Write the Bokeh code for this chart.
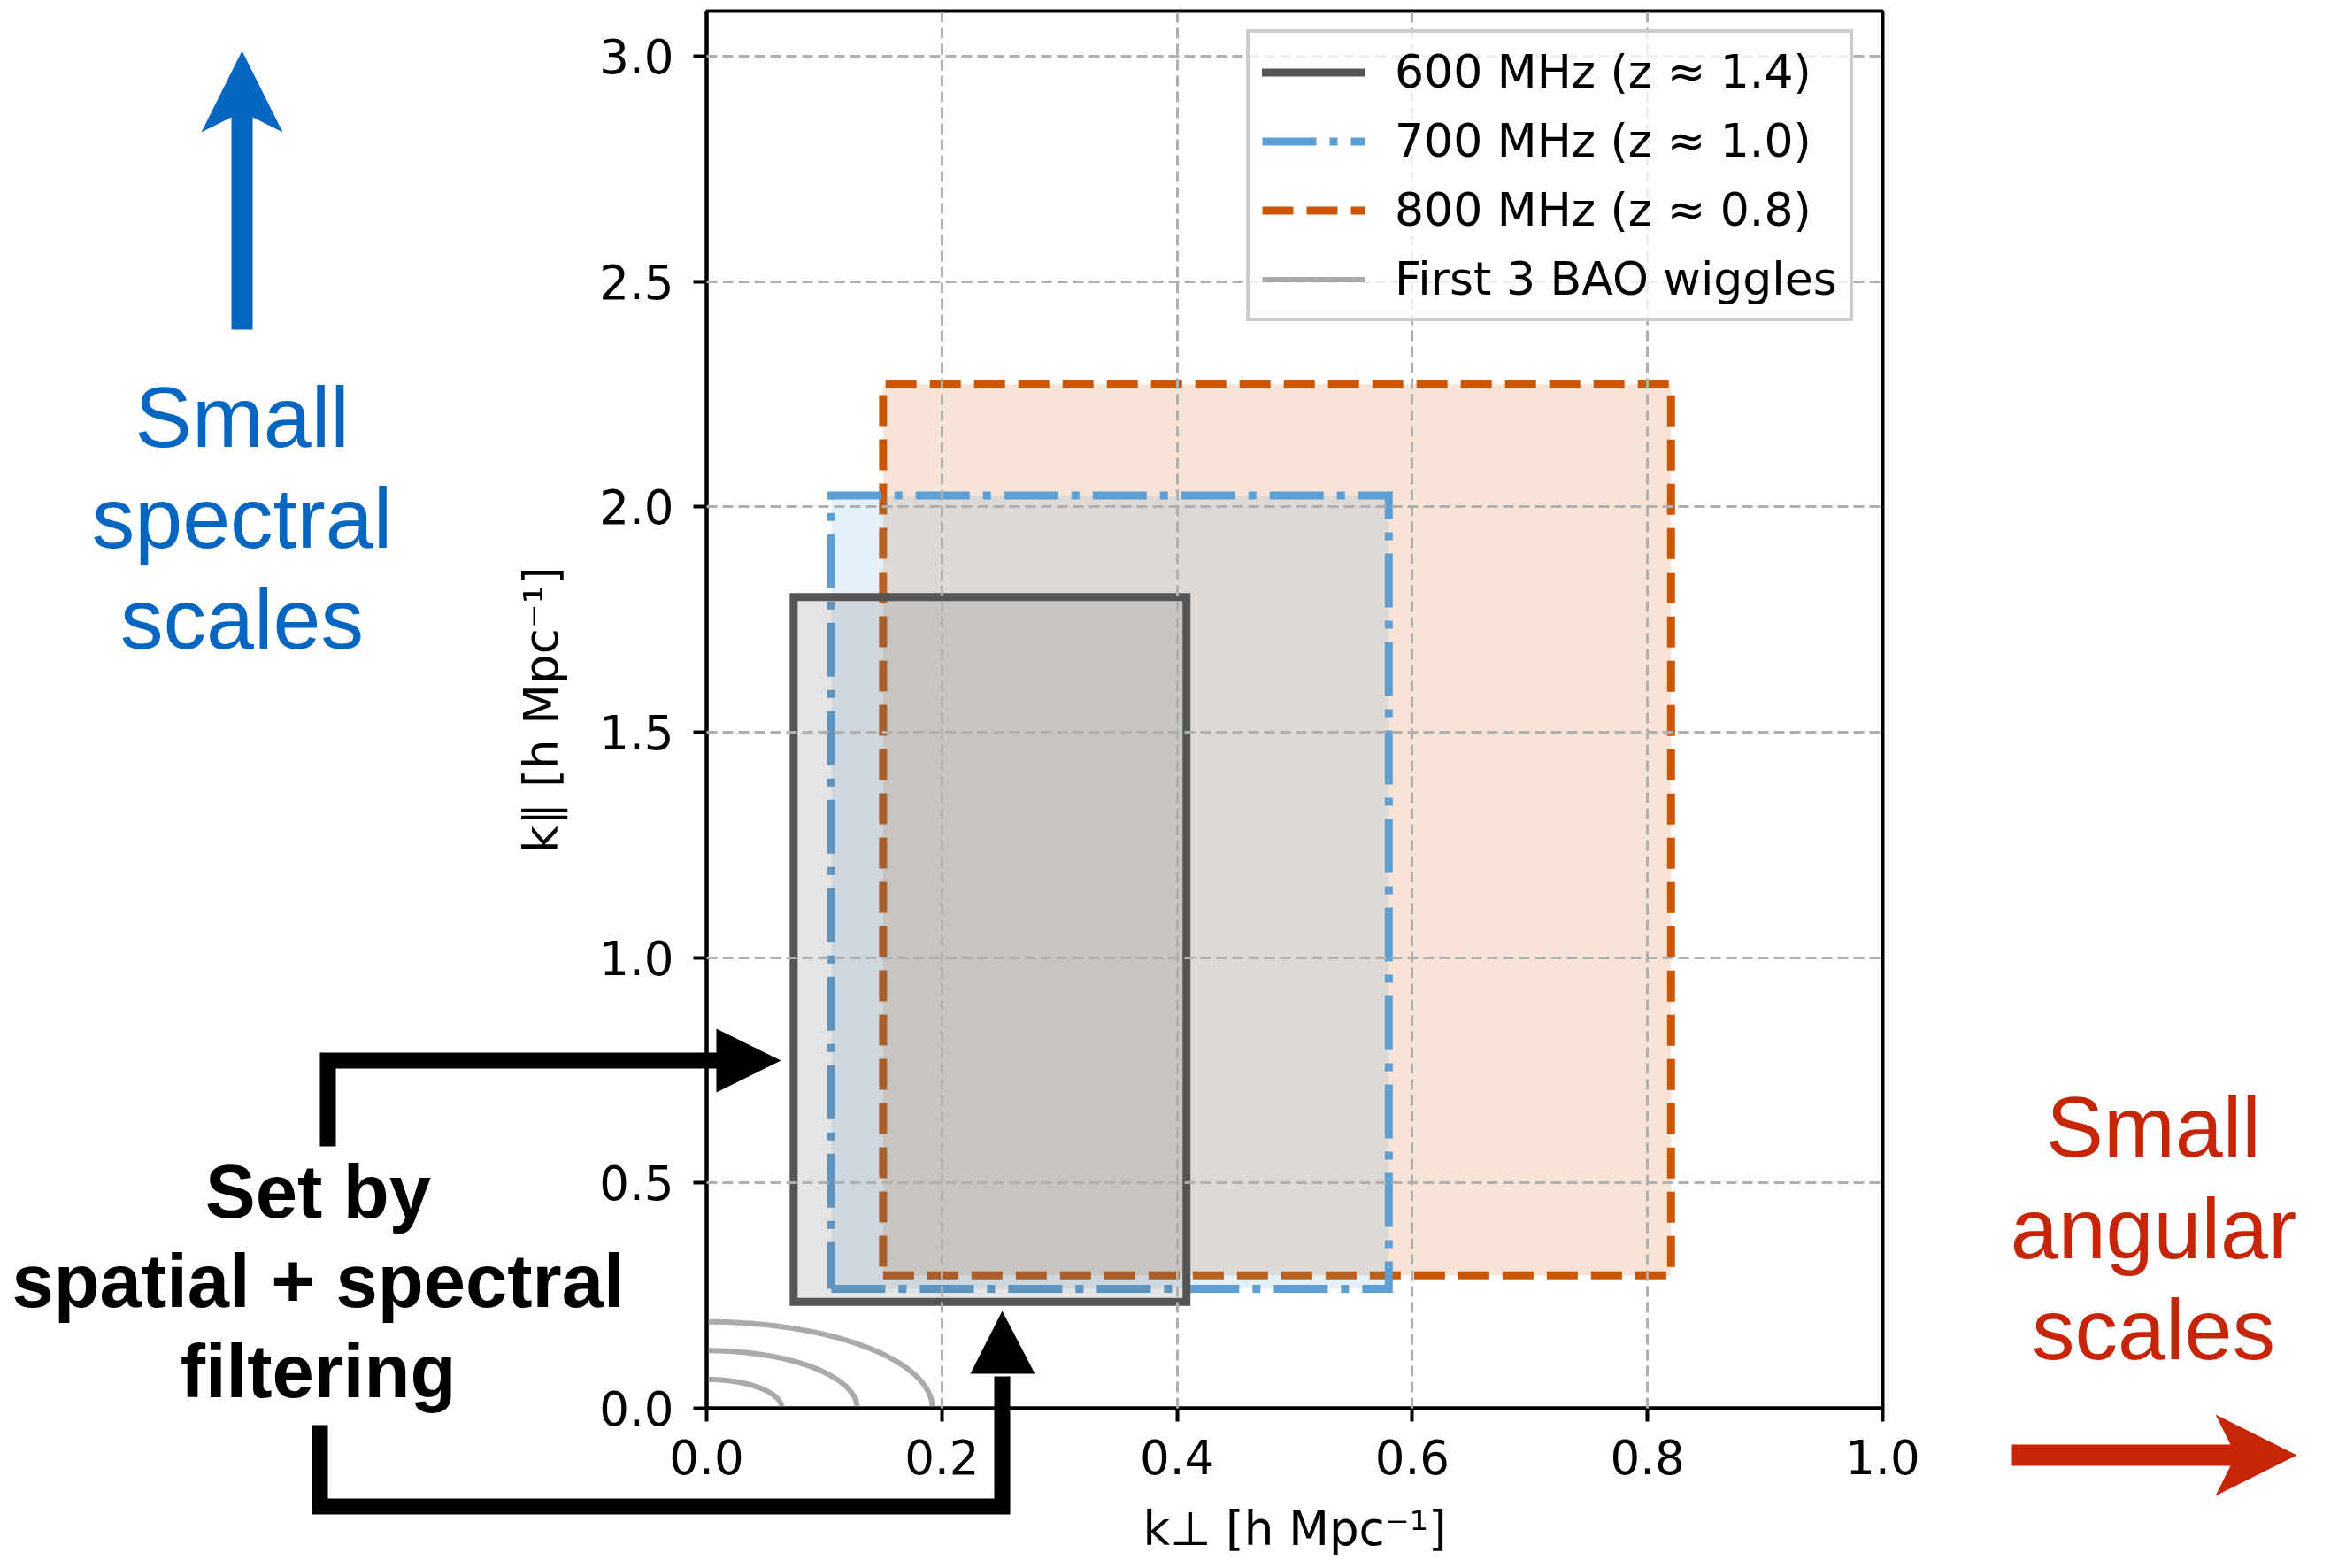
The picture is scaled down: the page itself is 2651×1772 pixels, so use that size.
import numpy as np
from bokeh.plotting import figure
from bokeh.layouts import column
from bokeh.models import (Label, Legend, LegendItem, FixedTicker, PrintfTickFormatter, Range1d)
from bokeh.embed import file_html
from bokeh.resources import INLINE

# ---------------- data ----------------
bands = ["600 MHz (z ≈ 1.4)", "700 MHz (z ≈ 1.0)", "800 MHz (z ≈ 0.8)"]
kperp_min = [0.074, 0.106, 0.150]
kperp_max = [0.408, 0.580, 0.820]
kpar_min = [0.236, 0.265, 0.295]
kpar_max = [1.800, 2.025, 2.272]
band_colors = ["#555555", "#5e9fd3", "#cc5500"]
band_dashes = ["solid", "61 15 9 15", "35 15"]
bao_radii = [0.064, 0.128, 0.192]
bao_label = "First 3 BAO wiggles"
x_ticks = [0.0, 0.2, 0.4, 0.6, 0.8, 1.0]
y_ticks = [0.0, 0.5, 1.0, 1.5, 2.0, 2.5, 3.0]
x_lim = (0.0, 1.0)
y_lim = (0.0, 3.1)

W, H = 2651, 1772

# ---------------- main chart ----------------
p = figure(width=W, height=H, output_backend="svg", toolbar_location=None,
           x_range=Range1d(*x_lim), y_range=Range1d(*y_lim),
           min_border_left=798, min_border_right=524, min_border_top=12, min_border_bottom=181)
p.frame_align = False
p.background_fill_color = "white"
p.border_fill_color = "white"
p.outline_line_color = "black"
p.outline_line_width = 4
p.outline_line_alpha = 1.0

# BAO wiggles: quarter circles in data space
theta = np.linspace(0.0, np.pi / 2, 120)
bao_r = p.multi_line(xs=[list(r * np.cos(theta)) for r in bao_radii],
                     ys=[list(r * np.sin(theta)) for r in bao_radii],
                     line_color="#aaaaaa", line_width=6)

# bands: drawn 800, 700, 600 (600 on top)
outlines = {}
for i in [2, 1, 0]:
    p.quad(left=[kperp_min[i]], right=[kperp_max[i]], bottom=[kpar_min[i]], top=[kpar_max[i]],
           fill_color=band_colors[i], fill_alpha=0.16, line_color=None)
    xs = [kperp_min[i], kperp_max[i], kperp_max[i], kperp_min[i], kperp_min[i]]
    ys = [kpar_min[i], kpar_min[i], kpar_max[i], kpar_max[i], kpar_min[i]]
    outlines[i] = p.line(xs, ys, line_color=band_colors[i], line_width=9,
                         line_dash=band_dashes[i], line_join="miter",
                         line_cap="square" if band_dashes[i] == "solid" else "butt")

# ---------------- grid & axes ----------------
p.xgrid.ticker = FixedTicker(ticks=[t for t in x_ticks if x_lim[0] < t < x_lim[1]])
p.ygrid.ticker = FixedTicker(ticks=[t for t in y_ticks if y_lim[0] < t < y_lim[1]])
for g in p.grid:
    g.grid_line_color = "#b0b0b0"
    g.grid_line_width = 3
    g.grid_line_dash = "12 6"
    g.level = "annotation"

p.xaxis.ticker = FixedTicker(ticks=x_ticks)
p.yaxis.ticker = FixedTicker(ticks=y_ticks)
p.xaxis.formatter = PrintfTickFormatter(format="%.1f")
p.yaxis.formatter = PrintfTickFormatter(format="%.1f")
p.xaxis.axis_label = "k⊥ [h Mpc⁻¹]"
p.yaxis.axis_label = "k∥ [h Mpc⁻¹]"
for ax in p.axis:
    ax.axis_line_width = 4
    ax.axis_line_color = "black"
    ax.major_tick_line_width = 4
    ax.major_tick_line_color = "black"
    ax.major_tick_out = 15
    ax.major_tick_in = 0
    ax.minor_tick_out = 0
    ax.minor_tick_in = 0
    ax.major_label_text_font = "DejaVu Sans"
    ax.major_label_text_font_size = "53px"
    ax.major_label_text_color = "black"
    ax.axis_label_text_font = "DejaVu Sans"
    ax.axis_label_text_font_size = "53px"
    ax.axis_label_text_font_style = "normal"
    ax.axis_label_text_color = "black"
p.xaxis.major_label_standoff = 20
p.xaxis.axis_label_standoff = 28
p.yaxis.major_label_standoff = 22
p.yaxis.axis_label_standoff = 32

# ---------------- legend ----------------
items = [LegendItem(label=bands[i], renderers=[outlines[i]]) for i in range(3)]
items.append(LegendItem(label=bao_label, renderers=[bao_r]))
legend = Legend(items=items, location=(610, 1228), glyph_width=116, glyph_height=59,
                label_height=59, label_standoff=34, spacing=18, padding=14, margin=0,
                label_text_font="DejaVu Sans", label_text_font_size="52px",
                label_text_color="black",
                border_line_color="#cccccc", border_line_width=4, border_line_alpha=1.0,
                background_fill_color="white", background_fill_alpha=0.8)
p.add_layout(legend)

# ---------------- annotation layer (pixel space, overlaid on the chart) ----------------
ann = figure(width=W, height=H, output_backend="svg", toolbar_location=None,
             x_range=Range1d(0, W), y_range=Range1d(0, H),
             x_axis_type=None, y_axis_type=None, min_border=0,
             styles={"position": "absolute", "left": "0px", "top": "0px"})
ann.frame_align = False
ann.background_fill_alpha = 0
ann.border_fill_alpha = 0
ann.outline_line_color = None

def Y(v):  # convert top-down pixel row to the layer's bottom-up coordinate
    return H - v

blue = "#0466c0"
red = "#c62507"

# blue upward arrow
bx = [273, 319, 285, 285, 261, 261, 227]
by = [57, 149, 132, 372, 372, 132, 149]
# red rightward arrow
rx = [2595, 2503, 2520, 2273, 2273, 2520, 2503]
ry = [1644, 1598, 1632, 1632, 1656, 1656, 1690]
# black arrowheads
h1x = [809, 882, 809]
h1y = [1162, 1198, 1234]
h2x = [1096, 1132, 1169]
h2y = [1552, 1481, 1552]
ann.patches(xs=[bx, rx, h1x, h2x], ys=[[Y(v) for v in by], [Y(v) for v in ry],
                                       [Y(v) for v in h1y], [Y(v) for v in h2y]],
            fill_color=[blue, red, "black", "black"], line_color=None)

# black bracket polylines
ann.multi_line(xs=[[370, 370, 812], [361, 361, 1132, 1132]],
               ys=[[Y(1295), Y(1198), Y(1198)], [Y(1610), Y(1702), Y(1702), Y(1555)]],
               line_color="black", line_width=18, line_join="miter")

def lab(x, y, text, color, size, style="normal"):
    ann.add_layout(Label(x=x, y=Y(y - 37), text=text, text_align="center",
                         text_baseline="alphabetic", text_color=color,
                         text_font_size=size, text_font="Liberation Sans",
                         text_font_style=style))

lab(273, 508, "Small", blue, "97px")
lab(273, 622, "spectral", blue, "97px")
lab(273, 736, "scales", blue, "97px")

lab(2433, 1310, "Small", red, "97px")
lab(2433, 1425, "angular", red, "97px")
lab(2433, 1539, "scales", red, "97px")

lab(359, 1383, "Set by", "black", "85px", "bold")
lab(359, 1484, "spatial + spectral", "black", "85px", "bold")
lab(359, 1586, "filtering", "black", "85px", "bold")

layout = column(p, ann)
open("out.html", "w").write(file_html(layout, INLINE))
